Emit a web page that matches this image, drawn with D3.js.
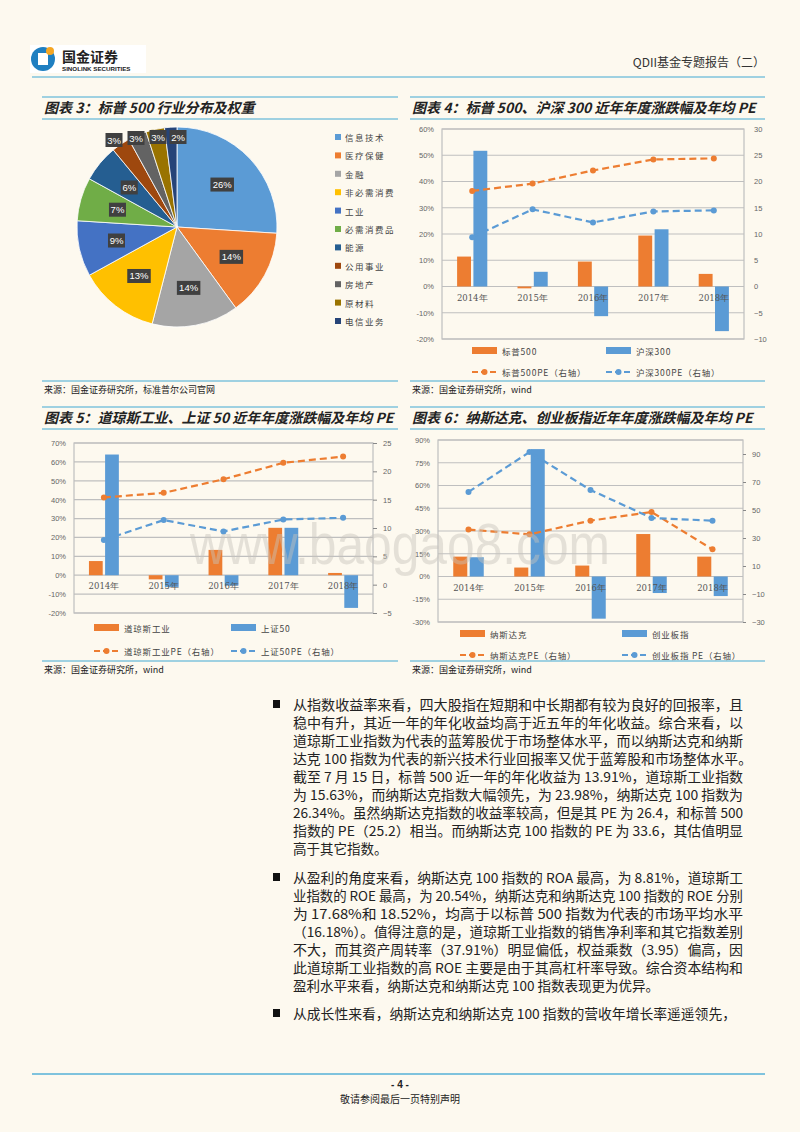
<!DOCTYPE html>
<html><head><meta charset="utf-8">
<script src="https://d3js.org/d3.v7.min.js"></script>
<style>body{margin:0;background:#fdf9ef}svg{display:block}</style>
</head><body>
<script>
const years=["2014年","2015年","2016年","2017年","2018年"];
// Chart 3 pie
const pieCats=["信息技术","医疗保健","金融","非必需消费","工业","必需消费品","能源","公用事业","房地产","原材料","电信业务"];
const pieVals=[26,14,14,13,9,7,6,3,3,3,2];
const pieColors=["#5B9BD5","#ED7D31","#A5A5A5","#FFC000","#4472C4","#70AD47","#255E91","#9E480E","#636363","#997300","#264478"];
// Chart 4
const sp500=[11.4,-0.7,9.5,19.4,4.8];
const hs300=[51.7,5.6,-11.3,21.8,-17.0];
const sp500PE=[18.2,19.6,22.1,24.2,24.4];
const hs300PE=[9.4,14.7,12.2,14.3,14.5];
// Chart 5
const dji=[7.5,-2.2,13.4,25.1,1.2];
const sse50=[63.9,-6.2,-5.5,25.1,-17.3];
const djiPE=[15.4,16.2,18.6,21.5,22.6];
const sse50PE=[7.9,11.4,9.4,11.5,11.8];
// Chart 6
const nasdaq=[13.1,5.9,7.2,28.0,13.1];
const chinext=[12.7,84.0,-27.8,-10.9,-12.9];
const nasdaqPE=[36.0,32.6,42.4,48.6,21.9];
const chinextPE=[62.9,91.4,64.3,44.3,42.4];

const ORANGE="#ED7D31",BLUE="#5B9BD5",LINE="#7fc3dd";
const svg=d3.select("body").append("svg").attr("width",800).attr("height",1132);
svg.append("rect").attr("width",800).attr("height",1132).attr("fill","#fdf9ef");
const CJK="'Noto Sans CJK SC','Noto Sans',sans-serif";

// header
const lg=svg.append("g");
lg.append("rect").attr("x",30).attr("y",45).attr("width",116).attr("height",28).attr("fill","#fff");
lg.append("circle").attr("cx",43).attr("cy",59).attr("r",12).attr("fill","#1f7fc1");
lg.append("rect").attr("x",38).attr("y",53).attr("width",10).attr("height",12).attr("fill","#fff");
lg.append("circle").attr("cx",50).attr("cy",51).attr("r",4).attr("fill","#f5a623");
lg.append("text").attr("x",62).attr("y",62).text("国金证券").attr("font-family",CJK).attr("font-weight","bold").attr("font-size",14).attr("fill","#222");
lg.append("text").attr("x",62).attr("y",71).text("SINOLINK SECURITIES").attr("font-family","Liberation Sans").attr("font-weight","bold").attr("font-size",6.2).attr("fill","#222");
svg.append("text").attr("x",765).attr("y",67).attr("text-anchor","end").text("QDII基金专题报告（二）").attr("font-family",CJK).attr("font-size",12).attr("fill","#333");
svg.append("line").attr("x1",32).attr("x2",765).attr("y1",77).attr("y2",77).attr("stroke",LINE).attr("stroke-width",1.5);

function titleBox(x1,x2,yTop,text){
  svg.append("line").attr("x1",x1).attr("x2",x2).attr("y1",yTop).attr("y2",yTop).attr("stroke",LINE).attr("stroke-width",1.5);
  svg.append("line").attr("x1",x1).attr("x2",x2).attr("y1",yTop+22).attr("y2",yTop+22).attr("stroke",LINE).attr("stroke-width",1.5);
  svg.append("text").attr("x",x1+2).attr("y",yTop+16).text(text).attr("font-family",CJK).attr("font-style","italic").attr("font-weight","bold").attr("font-size",14).attr("fill","#222");
}
function source(x1,x2,y,text){
  svg.append("line").attr("x1",x1).attr("x2",x2).attr("y1",y-9).attr("y2",y-9).attr("stroke",LINE).attr("stroke-width",1.5);
  svg.append("text").attr("x",x1+2).attr("y",y+3).text(text).attr("font-family",CJK).attr("font-size",9).attr("fill","#222");
}
titleBox(42,398,97,"图表 3：标普 500 行业分布及权重");
titleBox(410,765,97,"图表 4：标普 500、沪深 300 近年年度涨跌幅及年均 PE");
source(42,398,390,"来源：国金证券研究所，标准普尔公司官网");
source(410,765,390,"来源：国金证券研究所，wind");
titleBox(42,398,407,"图表 5：道琼斯工业、上证 50 近年年度涨跌幅及年均 PE");
titleBox(410,765,407,"图表 6：纳斯达克、创业板指近年年度涨跌幅及年均 PE");
source(42,398,670,"来源：国金证券研究所，wind");
source(410,765,670,"来源：国金证券研究所，wind");

// pie
const pie=d3.pie().sort(null).value(d=>d)(pieVals);
const R=100,cx=177,cy=227;
const arc=d3.arc().innerRadius(0).outerRadius(R);
const pg=svg.append("g").attr("transform",`translate(${cx},${cy})`);
pg.selectAll("path").data(pie).join("path").attr("d",arc).attr("fill",(d,i)=>pieColors[i]).attr("stroke","#fff").attr("stroke-width",0.8);
const outsidePos=[[-63,-87],[-41,-89],[-19,-90],[1,-90]];
pie.forEach((d,i)=>{
  let p;
  if(i>=7) p=outsidePos[i-7];
  else p=d3.arc().innerRadius(R*0.62).outerRadius(R*0.62).centroid(d);
  const t=d.data+"%";
  const w=t.length*6.5+4;
  pg.append("rect").attr("x",p[0]-w/2).attr("y",p[1]-7).attr("width",w).attr("height",14).attr("fill","#404040");
  pg.append("text").attr("x",p[0]).attr("y",p[1]+3.5).attr("text-anchor","middle").text(t).attr("font-family","Liberation Sans").attr("font-size",9.5).attr("fill","#fff");
});
const ly=d3.scalePoint().domain(pieCats).range([138,322]);
pieCats.forEach((c,i)=>{
  svg.append("rect").attr("x",335).attr("y",ly(c)-4).attr("width",6).attr("height",6).attr("fill",pieColors[i]);
  svg.append("text").attr("x",345).attr("y",ly(c)+3).text(c).attr("font-family",CJK).attr("font-size",8.5).attr("fill","#444").attr("letter-spacing",1.5);
});

// combo chart
function combo(o){
  const g=svg.append("g");
  const x=d3.scaleBand().domain(years).range([o.x0,o.x1]);
  const yL=d3.scaleLinear().domain(o.ld).range([o.y1,o.y0]);
  const yR=d3.scaleLinear().domain(o.rd).range([o.y1,o.y0]);
  o.lt.forEach(t=>{
    g.append("line").attr("x1",o.x0).attr("x2",o.x1).attr("y1",yL(t)).attr("y2",yL(t)).attr("stroke","#bfbfbf").attr("stroke-width",1.2);
  });
  g.append("rect").attr("x",o.x0).attr("y",o.y0).attr("width",o.x1-o.x0).attr("height",o.y1-o.y0).attr("fill","none").attr("stroke","#bfbfbf").attr("stroke-width",1.2);
  const la=d3.axisLeft(yL).tickValues(o.lt).tickFormat(d=>d+"%").tickSize(0).tickPadding(8);
  g.append("g").attr("transform",`translate(${o.x0},0)`).call(la).call(a=>a.select(".domain").remove()).selectAll("text").attr("font-family","Liberation Sans").attr("font-size",7.5).attr("fill","#666");
  const ra=d3.axisRight(yR).tickValues(o.rt).tickSize(o.rtick||0).tickPadding(o.rtick?6:10);
  g.append("g").attr("transform",`translate(${o.x1},0)`).call(ra).call(a=>a.select(".domain").remove()).call(a=>a.selectAll("line").attr("stroke","#888")).selectAll("text").attr("font-family","Liberation Sans").attr("font-size",7.5).attr("fill","#666");
  const bw=x.bandwidth()*0.23,gap=x.bandwidth()*0.04;
  [[o.a,ORANGE,-1],[o.b,BLUE,1]].forEach(([arr,col,s])=>{
    g.selectAll(null).data(arr).join("rect")
      .attr("x",(d,i)=>x(years[i])+x.bandwidth()/2+(s<0?-gap/2-bw:gap/2))
      .attr("y",d=>yL(Math.max(0,d))).attr("width",bw)
      .attr("height",d=>Math.abs(yL(d)-yL(0))).attr("fill",col);
  });
  years.forEach(yv=>{
    g.append("text").attr("x",x(yv)+x.bandwidth()/2).attr("y",yL(0)+14).attr("text-anchor","middle").text(yv).attr("font-family","'DejaVu Serif',serif").attr("font-size",8.5).attr("fill","#555");
  });
  const line=d3.line().x((d,i)=>x(years[i])+x.bandwidth()/2).y(d=>yR(d));
  [[o.pa,ORANGE],[o.pb,BLUE]].forEach(([arr,col])=>{
    g.append("path").attr("d",line(arr)).attr("fill","none").attr("stroke",col).attr("stroke-width",2.2).attr("stroke-dasharray","7,4");
    g.selectAll(null).data(arr).join("circle").attr("cx",(d,i)=>x(years[i])+x.bandwidth()/2).attr("cy",d=>yR(d)).attr("r",3).attr("fill",col);
  });
  const L=(lx,yy,txt,col,type)=>{
    if(type==="bar") g.append("rect").attr("x",lx).attr("y",yy-4).attr("width",25).attr("height",7).attr("fill",col);
    else{
      g.append("line").attr("x1",lx).attr("x2",lx+25).attr("y1",yy).attr("y2",yy).attr("stroke",col).attr("stroke-width",2).attr("stroke-dasharray","6,3");
      g.append("circle").attr("cx",lx+12.5).attr("cy",yy).attr("r",3).attr("fill",col);
    }
    g.append("text").attr("x",lx+30).attr("y",yy+4).text(txt).attr("font-family",CJK).attr("font-size",8.5).attr("fill","#444").attr("letter-spacing",0.8);
  };
  L(o.lx1,o.ly1,o.names[0],ORANGE,"bar");
  L(o.lx2,o.ly1,o.names[1],BLUE,"bar");
  L(o.lx1,o.ly2,o.names[2],ORANGE,"line");
  L(o.lx2,o.ly2,o.names[3],BLUE,"line");
}
combo({x0:442,x1:744,y0:129,y1:339,ld:[-20,60],lt:[-20,-10,0,10,20,30,40,50,60],rd:[-10,30],rt:[-10,-5,0,5,10,15,20,25,30],
  a:sp500,b:hs300,pa:sp500PE,pb:hs300PE,names:["标普500","沪深300","标普500PE（右轴）","沪深300PE（右轴）"],lx1:472,lx2:606,ly1:351,ly2:372});
combo({x0:74,x1:373,y0:443,y1:613,ld:[-20,70],lt:[-20,-10,0,10,20,30,40,50,60,70],rd:[-5,25],rt:[-5,0,5,10,15,20,25],rtick:4,
  a:dji,b:sse50,pa:djiPE,pb:sse50PE,names:["道琼斯工业","上证50","道琼斯工业PE（右轴）","上证50PE（右轴）"],lx1:94,lx2:231,ly1:628,ly2:651});
combo({x0:438,x1:743,y0:440,y1:622,ld:[-30,90],lt:[-30,-15,0,15,30,45,60,75,90],rd:[-30,100],rt:[-30,-10,10,30,50,70,90],rtick:3,
  a:nasdaq,b:chinext,pa:nasdaqPE,pb:chinextPE,names:["纳斯达克","创业板指","纳斯达克PE（右轴）","创业板指 PE（右轴）"],lx1:460,lx2:622,ly1:634,ly2:655});

// watermark
svg.append("text").attr("x",190).attr("y",564).text("www.baogao8.com").attr("font-family","Liberation Sans").attr("font-size",58)
  .attr("textLength",420).attr("lengthAdjust","spacingAndGlyphs").attr("fill","#c8c4bc").attr("opacity",0.45);

// body text
const paras=[
 {y:709,lines:["从指数收益率来看，四大股指在短期和中长期都有较为良好的回报率，且","稳中有升，其近一年的年化收益均高于近五年的年化收益。综合来看，以","道琼斯工业指数为代表的蓝筹股优于市场整体水平，而以纳斯达克和纳斯","达克 100 指数为代表的新兴技术行业回报率又优于蓝筹股和市场整体水平。","截至 7 月 15 日，标普 500 近一年的年化收益为 13.91%，道琼斯工业指数","为 15.63%，而纳斯达克指数大幅领先，为 23.98%，纳斯达克 100 指数为","26.34%。虽然纳斯达克指数的收益率较高，但是其 PE 为 26.4，和标普 500","指数的 PE（25.2）相当。而纳斯达克 100 指数的 PE 为 33.6，其估值明显","高于其它指数。"]},
 {y:882,lines:["从盈利的角度来看，纳斯达克 100 指数的 ROA 最高，为 8.81%，道琼斯工","业指数的 ROE 最高，为 20.54%，纳斯达克和纳斯达克 100 指数的 ROE 分别","为 17.68%和 18.52%，均高于以标普 500 指数为代表的市场平均水平","（16.18%）。值得注意的是，道琼斯工业指数的销售净利率和其它指数差别","不大，而其资产周转率（37.91%）明显偏低，权益乘数（3.95）偏高，因","此道琼斯工业指数的高 ROE 主要是由于其高杠杆率导致。综合资本结构和","盈利水平来看，纳斯达克和纳斯达克 100 指数表现更为优异。"]},
 {y:1018,lines:["从成长性来看，纳斯达克和纳斯达克 100 指数的营收年增长率遥遥领先，"]}
];
paras.forEach((p,pi)=>{
  svg.append("rect").attr("x",273).attr("y",p.y-9).attr("width",7).attr("height",8).attr("fill","#111");
  p.lines.forEach((l,i)=>{
    const full=(i<p.lines.length-1)||pi===2;
    const t=svg.append("text").attr("x",293).attr("y",p.y+i*18+1).text(l).attr("font-family",CJK).attr("font-size",13.5).attr("fill","#222");
    if(full){ const w=(pi===0&&i===3)?459:(pi===2?443:450); t.attr("textLength",w).attr("lengthAdjust","spacingAndGlyphs"); }
  });
});

// footer
svg.append("line").attr("x1",32).attr("x2",765).attr("y1",1074).attr("y2",1074).attr("stroke",LINE).attr("stroke-width",2);
svg.append("text").attr("x",400).attr("y",1088).attr("text-anchor","middle").text("- 4 -").attr("font-family","Liberation Sans").attr("font-weight","bold").attr("font-size",10).attr("fill","#222");
svg.append("text").attr("x",400).attr("y",1103).attr("text-anchor","middle").text("敬请参阅最后一页特别声明").attr("font-family",CJK).attr("font-size",10).attr("fill","#222");
</script>
</body></html>
